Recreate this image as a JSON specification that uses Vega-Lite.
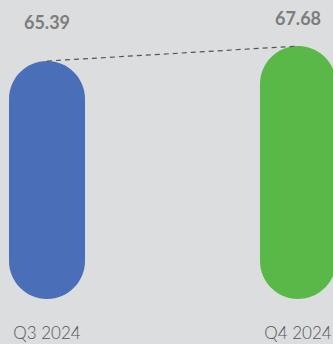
{
  "$schema": "https://vega.github.io/schema/vega-lite/v6.json",
  "width": 333,
  "height": 299,
  "autosize": {"type": "none"},
  "padding": {"left": 0, "top": 0, "right": 0, "bottom": 45},
  "background": "#dcdddf",
  "config": {"view": {"stroke": null}, "font": "Lato"},
  "data": {"values": [
    {"quarter": "Q3 2024", "value": 65.39},
    {"quarter": "Q4 2024", "value": 67.68}
  ]},
  "encoding": {
    "x": {"field": "quarter", "type": "nominal", "sort": null,
      "scale": {"type": "band", "range": [-78.5, 423.5], "paddingInner": 0, "paddingOuter": 0},
      "axis": {"title": null, "domain": false, "ticks": false, "grid": false, "labelAngle": 0,
        "labelFontSize": 17, "labelColor": "#555555", "labelFont": "Lato", "labelPadding": 26.5, "labelFontWeight": 300}}
  },
  "layer": [
    {
      "mark": {"type": "bar", "size": 76, "cornerRadius": 38},
      "encoding": {
        "y": {"field": "value", "type": "quantitative", "scale": {"domain": [29.06, 74.71], "zero": false, "nice": false}, "axis": null},
        "y2": {"datum": 29.06},
        "color": {"field": "quarter", "type": "nominal", "scale": {"range": ["#4a6fb8", "#59b848"]}, "legend": null}
      }
    },
    {
      "mark": {"type": "line", "strokeDash": [5, 4], "color": "#555555", "strokeWidth": 1.2},
      "encoding": {
        "y": {"field": "value", "type": "quantitative", "scale": {"domain": [29.06, 74.71], "zero": false, "nice": false}, "axis": null}
      }
    },
    {
      "mark": {"type": "text", "fontSize": 18, "fontWeight": "bold", "color": "#7d7d7d", "baseline": "alphabetic", "font": "Lato"},
      "encoding": {
        "y": {"field": "value", "type": "quantitative", "scale": {"domain": [-89.2, 81.99], "zero": false, "nice": false}, "axis": null},
        "text": {"field": "value", "type": "quantitative", "format": ".2f"}
      }
    }
  ],
  "resolve": {"scale": {"y": "independent"}}
}
